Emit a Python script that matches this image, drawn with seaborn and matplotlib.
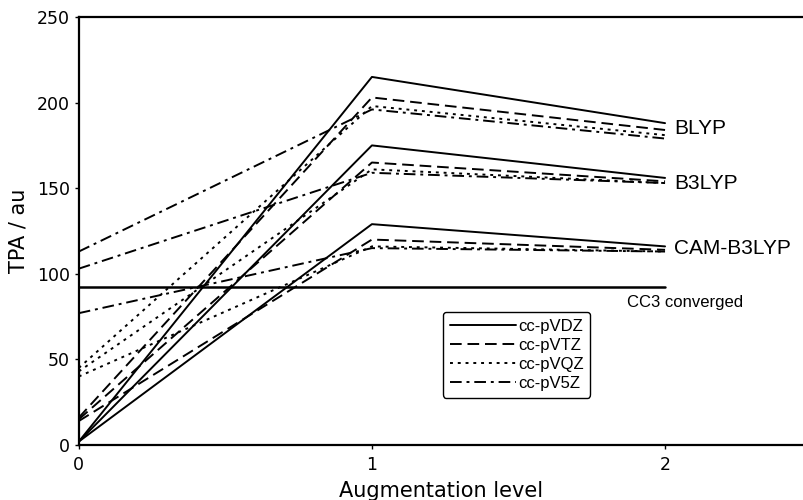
import pandas as pd
import numpy as np
import matplotlib.pyplot as plt
import seaborn as sns
from matplotlib.lines import Line2D

# augmentation levels and values
levels = [0, 1, 2]
functionals = ['BLYP', 'B3LYP', 'CAM-B3LYP']
bases = ['cc-pVDZ', 'cc-pVTZ', 'cc-pVQZ', 'cc-pV5Z']

blyp = {
    'cc-pVDZ': [2, 215, 188],
    'cc-pVTZ': [16, 203, 184],
    'cc-pVQZ': [45, 198, 181],
    'cc-pV5Z': [113, 196, 179],
}
b3lyp = {
    'cc-pVDZ': [2, 175, 156],
    'cc-pVTZ': [15, 165, 154],
    'cc-pVQZ': [43, 161, 153],
    'cc-pV5Z': [103, 159, 153],
}
cam_b3lyp = {
    'cc-pVDZ': [2, 129, 116],
    'cc-pVTZ': [14, 120, 114],
    'cc-pVQZ': [40, 116, 113],
    'cc-pV5Z': [77, 115, 113],
}
cc3_converged = 92


def build_frame():
    rows = []
    for name, data in zip(functionals, [blyp, b3lyp, cam_b3lyp]):
        for basis in bases:
            for lev, val in zip(levels, data[basis]):
                rows.append({'functional': name, 'basis': basis, 'level': lev, 'tpa': val})
    return pd.DataFrame(rows)


def main():
    df = build_frame()

    sns.set_style('ticks')
    plt.rcParams['font.family'] = ['DejaVu Sans']
    # everything in plain black, like the original figure
    for key in ['text.color', 'axes.labelcolor', 'xtick.color', 'ytick.color']:
        plt.rcParams[key] = 'black'

    fig = plt.figure(figsize=(8.04, 5.0), dpi=100)
    ax = fig.add_axes([0.098, 0.11, 0.902, 0.856])

    dash_map = {
        'cc-pVDZ': '',
        'cc-pVTZ': (6, 3),
        'cc-pVQZ': (1.5, 2.5),
        'cc-pV5Z': (6, 2.5, 1.5, 2.5),
    }

    sns.lineplot(data=df, x='level', y='tpa', style='basis', units='functional',
                 estimator=None, dashes=dash_map, color='black', linewidth=1.4,
                 legend=False, ax=ax)

    # CC3 reference line
    ax.plot([0, 2], [cc3_converged, cc3_converged], color='black', linewidth=1.8)
    ax.text(1.87, 83, 'CC3 converged', family='Liberation Sans',
            fontsize=12, ha='left', va='center')

    # functional labels at the right end
    label_y = {'BLYP': 185, 'B3LYP': 153, 'CAM-B3LYP': 115}
    for name in functionals:
        ax.text(2.03, label_y[name], name, family='Liberation Sans',
                fontsize=15, ha='left', va='center')

    ax.set_xlim(0, 2.474)
    ax.set_ylim(0, 250)
    ax.set_xticks(levels)
    ax.set_yticks(np.arange(0, 251, 50))
    ax.tick_params(labelsize=12.5, length=3, width=1)
    ax.tick_params(axis='x', pad=5)
    ax.set_xlabel('Augmentation level', fontsize=15, labelpad=5)
    ax.set_ylabel('TPA / au', fontsize=15, labelpad=6)

    for s in ['left', 'bottom', 'top']:
        ax.spines[s].set_linewidth(1.6)
        ax.spines[s].set_color('black')
    ax.spines['right'].set_visible(False)

    handles = [Line2D([0], [0], color='black', linewidth=1.4,
                      linestyle='-' if dash_map[b] == '' else (0, dash_map[b]))
               for b in bases]
    leg = ax.legend(handles, bases, loc='upper left', bbox_to_anchor=(0.502, 0.311),
                    prop={'family': 'Liberation Sans', 'size': 12},
                    frameon=True, fancybox=True, handlelength=4.0, handletextpad=0.1,
                    labelspacing=0.25, borderpad=0.4, borderaxespad=0)
    leg.get_frame().set_edgecolor('black')
    leg.get_frame().set_linewidth(1.0)
    leg.get_frame().set_alpha(1)
    for t in leg.get_texts():
        t.set_color('black')

    plt.savefig('out.png', dpi=100)


if __name__ == '__main__':
    main()
